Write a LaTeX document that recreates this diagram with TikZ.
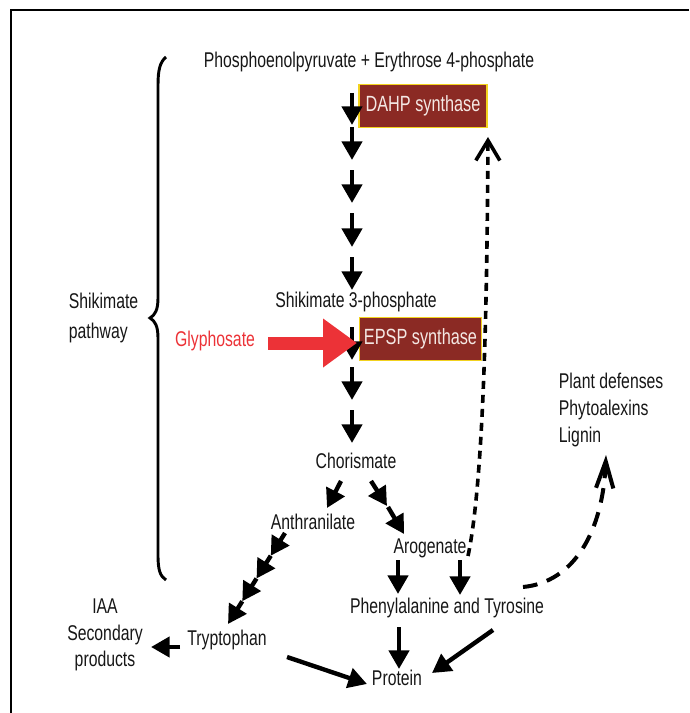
\documentclass[tikz,border=0pt]{standalone}
\usepackage{fontspec}
\setmainfont{Liberation Sans}[FakeStretch=0.74]
\usepackage{tikz}
\usetikzlibrary{arrows.meta}
\definecolor{enzfill}{HTML}{8B2A24}
\definecolor{enzline}{HTML}{F2D21E}
\definecolor{enztext}{HTML}{F4E8E4}
\definecolor{glyred}{HTML}{EC3237}
\definecolor{ink}{HTML}{161616}
\tikzset{>=latex}

\begin{document}
\begin{tikzpicture}[x=0.75pt, y=-0.75pt,
  chem/.style={font=\fontsize{16}{20}\selectfont, text=ink, inner sep=2pt},
  enzyme/.style={draw=enzline, line width=0.8pt, fill=enzfill, text=enztext,
    font=\fontsize{16.5}{20}\selectfont, inner sep=0pt, minimum height=32pt},
  flow/.style={line width=3.3pt, -{Triangle[length=14pt,width=15pt]}},
  feedback/.style={line width=2.7pt, dash pattern=on 6pt off 4.5pt,
    -{Straight Barb[length=15pt,width=18pt]}},
  defense/.style={line width=3pt, dash pattern=on 11pt off 7.5pt,
    -{Straight Barb[length=20pt,width=13pt]}}]

\useasboundingbox (0,0) rectangle (689,713);

% Outer frame (cut at right and bottom)
\draw[line width=1.8pt] (689,10) -- (11,10) -- (11,713);

% ---------- Shikimate pathway ----------
% Brace
\draw[line width=2.2pt]
  (166,57) .. controls (160,62) and (158,70) .. (158,85) -- (158,298)
  .. controls (158,310) and (155,315) .. (150,318)
  .. controls (155,321) and (158,326) .. (158,338) -- (158,555)
  .. controls (158,570) and (160,576) .. (166,580);
\node[chem, align=left, anchor=west, font=\fontsize{16}{22.5}\selectfont]
  (pathway) at (66,318) {Shikimate\\pathway};

% Metabolites
\node[chem] (pep) at (369,62) {Phosphoenolpyruvate + Erythrose 4-phosphate};
\node[enzyme, minimum width=96pt] (dahp) at (423,106) {DAHP synthase};
\node[chem] (s3p) at (356,302) {Shikimate 3-phosphate};
\node[enzyme, minimum width=92pt] (epsp) at (420.5,339) {EPSP synthase};
\node[chem, text=glyred] (gly) at (215,341) {Glyphosate};
\node[chem] (chor) at (356,461) {Chorismate};
\node[chem] (anth) at (313,522) {Anthranilate};
\node[chem] (arog) at (430,548) {Arogenate};

% Main steps
\foreach \i/\a/\b in {1/93/125, 2/127/160, 3/170/203, 4/213/247,
                      5/257/290, 6/327/360, 7/367/400, 8/410/443}{
  \coordinate (m\i a) at (352,\a);
  \coordinate (m\i b) at (352,\b);
  \draw[flow] (m\i a) -- (m\i b);
}

% Glyphosate blocks EPSP synthase
\coordinate (glyout) at (268,343);
\coordinate (glyin) at (357,343);
\draw[glyred, line width=9.75pt, -{Triangle[length=25.5pt,width=35pt]}]
  (glyout) -- (glyin);

% Branches from chorismate
\coordinate (chl) at (341,481);
\coordinate (anl) at (327,508);
\draw[flow] (chl) -- (anl);
\coordinate (chr) at (371,481);
\coordinate (chm) at (387,506);
\coordinate (chn) at (388,507);
\coordinate (arr) at (404,534);
\draw[flow] (chr) -- (chm);
\draw[flow] (chn) -- (arr);

% ---------- Products ----------
\node[chem] (phetyr) at (447,608) {Phenylalanine and Tyrosine};
\node[chem] (trp) at (227,640) {Tryptophan};
\node[chem] (prot) at (397,678) {Protein};
\node[chem, align=center] (iaa) at (105,635) {IAA\\Secondary\\products};
\node[chem, align=left, anchor=west] (plant) at (556,410)
  {Plant defenses\\Phytoalexins\\Lignin};

% Anthranilate to tryptophan
\foreach \k in {0,...,3}{
  \coordinate (t\k) at (285-14.25*\k, 533+22.75*\k);
  \coordinate (u\k) at (285-14.25*\k-14.25, 533+22.75*\k+22.75);
  \draw[flow] (t\k) -- (u\k);
}

% Arogenate to phenylalanine and tyrosine
\coordinate (ar1) at (398,560);
\coordinate (pt1) at (398,594);
\coordinate (ar2) at (460,560);
\coordinate (pt2) at (460,595);
\draw[flow] (ar1) -- (pt1);
\draw[flow] (ar2) -- (pt2);

% To protein
\coordinate (ptd) at (399,627);
\coordinate (pru) at (399,669);
\draw[flow] (ptd) -- (pru);
\coordinate (ptr) at (493,630);
\coordinate (prr) at (432,673);
\draw[flow] (ptr) -- (prr);
\coordinate (trr) at (287,657);
\coordinate (prl) at (367,684);
\draw[flow] (trr) -- (prl);

% Tryptophan to IAA
\coordinate (trl) at (180,647);
\coordinate (iaar) at (151,647);
\draw[flow] (trl) -- (iaar);

% Feedback to DAHP synthase
\coordinate (fbs) at (468,556);
\coordinate (fbe) at (488,137);
\draw[feedback] (fbs) .. controls (484,480) and (487,300) .. (fbe);

% To plant defenses
\coordinate (pds) at (523,587);
\coordinate (pde) at (606,455);
\draw[defense] (pds) .. controls (575,582) and (603,530) .. (pde);

\end{tikzpicture}
\end{document}
